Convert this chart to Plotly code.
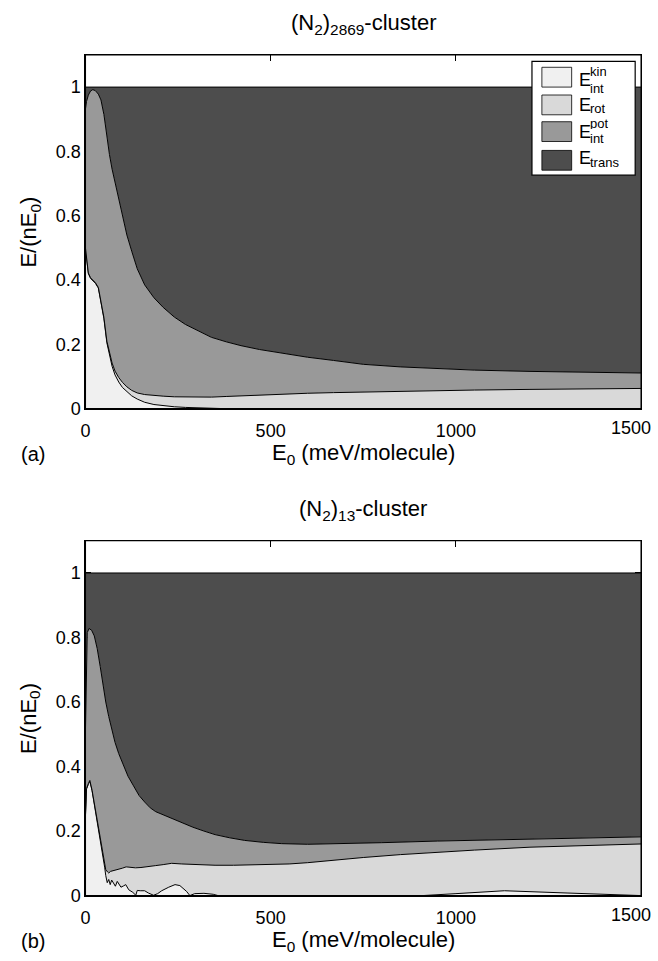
import plotly.graph_objects as go

W, H = 658, 961
FONT = "Liberation Sans, Arial, sans-serif"

# Energy partition E/(nE0) versus collision energy E0 (meV/molecule).
# Each list is the cumulative upper boundary of a stacked component.

# ---- (a) (N2)2869 cluster ----
a_kin_x = [0, 3, 8, 14, 20, 27, 35, 42, 50, 58, 65, 72, 80, 90, 100, 112, 125, 140,
           160, 185, 210, 240, 270, 300, 340, 380, 1500]
a_kin_y = [0.50, 0.46, 0.42, 0.405, 0.398, 0.390, 0.375, 0.335, 0.280, 0.205, 0.165,
           0.132, 0.105, 0.083, 0.066, 0.052, 0.040, 0.030, 0.020, 0.013, 0.009,
           0.006, 0.004, 0.003, 0.001, 0.0, 0.0]

a_rot_x = [0, 3, 8, 14, 20, 27, 35, 42, 50, 58, 65, 72, 80, 90, 100, 112, 125, 140,
           160, 185, 210, 240, 270, 300, 340, 380, 420, 470, 530, 600, 670, 750, 850,
           950, 1050, 1200, 1350, 1500]
a_rot_y = [0.502, 0.462, 0.422, 0.407, 0.400, 0.392, 0.377, 0.338, 0.284, 0.210, 0.172,
           0.142, 0.117, 0.097, 0.082, 0.068, 0.057, 0.049, 0.044, 0.041, 0.039,
           0.037, 0.036, 0.036, 0.036, 0.038, 0.040, 0.043, 0.046, 0.048, 0.050,
           0.052, 0.054, 0.056, 0.058, 0.060, 0.062, 0.063]

a_pot_x = [0, 3, 8, 14, 20, 27, 35, 42, 50, 58, 65, 72, 80, 90, 100, 112, 125, 140,
           160, 185, 210, 240, 270, 300, 340, 380, 420, 470, 530, 600, 670, 750, 850,
           950, 1050, 1200, 1350, 1500]
a_pot_y = [0.93, 0.955, 0.975, 0.988, 0.992, 0.989, 0.978, 0.960, 0.915, 0.845, 0.790,
           0.745, 0.705, 0.655, 0.600, 0.540, 0.490, 0.435, 0.385, 0.345, 0.315,
           0.285, 0.262, 0.245, 0.222, 0.208, 0.196, 0.184, 0.172, 0.160, 0.150,
           0.138, 0.130, 0.124, 0.120, 0.116, 0.113, 0.111]

# ---- (b) (N2)13 cluster ----
b_kin_x = [0, 3, 8, 12, 18, 27, 36, 45, 52, 55, 59, 63, 67, 71, 75, 81, 86, 90, 96,
           103, 109, 117, 128, 136, 140, 148, 160, 170, 184, 195, 206, 225, 242, 255,
           265, 273, 282, 295, 320, 345, 358, 910, 1000, 1131, 1300, 1450, 1500]
b_kin_y = [0.24, 0.33, 0.345, 0.355, 0.325, 0.262, 0.210, 0.148, 0.088, 0.062, 0.040,
           0.050, 0.034, 0.048, 0.040, 0.029, 0.044, 0.036, 0.026, 0.030, 0.034,
           0.018, 0.010, 0.001, 0.016, 0.015, 0.015, 0.008, 0.001, 0.006, 0.015,
           0.026, 0.034, 0.031, 0.022, 0.013, 0.0, 0.006, 0.007, 0.004, 0.0, 0.0,
           0.006, 0.015, 0.008, 0.002, 0.0]

b_rot_x = [0, 3, 8, 12, 18, 27, 36, 45, 52, 55, 60, 63, 68, 72, 80, 90, 100, 110, 120,
           135, 150, 170, 190, 210, 233, 260, 300, 350, 400, 450, 500, 550, 600, 667,
           750, 850, 950, 1050, 1200, 1350, 1500]
b_rot_y = [0.242, 0.332, 0.347, 0.357, 0.327, 0.264, 0.212, 0.151, 0.090, 0.080, 0.073,
           0.070, 0.075, 0.076, 0.080, 0.082, 0.085, 0.089, 0.088, 0.086, 0.087,
           0.089, 0.093, 0.096, 0.100, 0.098, 0.096, 0.094, 0.094, 0.095, 0.096,
           0.098, 0.102, 0.110, 0.118, 0.127, 0.135, 0.141, 0.150, 0.156, 0.160]

b_pot_x = [0, 2, 5, 10, 17, 24, 32, 40, 47, 55, 63, 72, 80, 90, 100, 115, 130, 145,
           160, 175, 190, 210, 235, 260, 290, 320, 350, 390, 430, 480, 530, 600, 670,
           800, 950, 1100, 1250, 1400, 1500]
b_pot_y = [0.50, 0.70, 0.815, 0.828, 0.822, 0.805, 0.765, 0.710, 0.655, 0.600, 0.555,
           0.510, 0.475, 0.440, 0.410, 0.370, 0.340, 0.310, 0.290, 0.272, 0.260,
           0.250, 0.238, 0.226, 0.212, 0.200, 0.189, 0.179, 0.171, 0.165, 0.161,
           0.159, 0.160, 0.164, 0.169, 0.173, 0.177, 0.180, 0.182]

total_x = [0, 1500]
total_y = [1.0, 1.0]

x_ticks = [0, 500, 1000, 1500]
x_ticktext = ["0", "500", "1000", "1500"]
y_ticks = [0, 0.2, 0.4, 0.6, 0.8, 1.0]

components = ["E_int^kin", "E_rot", "E_int^pot", "E_trans"]
fills = ["#f0f0f0", "#d9d9d9", "#999999", "#4d4d4d"]

fig = go.Figure()


def add_stack(xs, ys, xa, ya):
    for i, (x, y) in enumerate(zip(xs, ys)):
        fig.add_trace(go.Scatter(
            x=x, y=y, xaxis=xa, yaxis=ya, mode="lines",
            line=dict(color="black", width=1),
            fill="tozeroy" if i == 0 else "tonexty",
            fillcolor=fills[i], name=components[i],
            showlegend=False, hoverinfo="skip"))


add_stack([a_kin_x, a_rot_x, a_pot_x, total_x],
          [a_kin_y, a_rot_y, a_pot_y, total_y], "x", "y")
add_stack([b_kin_x, b_rot_x, b_pot_x, total_x],
          [b_kin_y, b_rot_y, b_pot_y, total_y], "x2", "y2")


def px_x(p):
    return p / W


def px_y(p):
    return 1 - p / H


# plot-area boxes in pixels: left, right, top, bottom
box_a = (81, 641, 55.5, 413)
box_b = (81, 641, 546.4, 905)

tick_font = dict(family=FONT, size=18, color="black")
# the last x label sits at the page edge, so it is placed as an annotation
common_x = dict(range=[0, 1500], tickvals=x_ticks,
                ticktext=x_ticktext[:-1] + [""], ticks="inside", ticklen=6,
                tickcolor="black", showgrid=False, zeroline=False, showline=True,
                linecolor="black", mirror="ticks", layer="below traces",
                tickfont=tick_font, ticklabelstandoff=6)
common_y = dict(range=[0, 1.1], tickvals=y_ticks, ticks="inside", ticklen=6,
                tickcolor="black", showgrid=False, zeroline=False, showline=True,
                linecolor="black", mirror="ticks", layer="below traces",
                tickfont=tick_font)

fig.update_layout(
    width=W, height=H, margin=dict(l=0, r=0, t=0, b=0),
    paper_bgcolor="white", plot_bgcolor="white",
    xaxis=dict(domain=[px_x(box_a[0]), px_x(box_a[1])], anchor="y", **common_x),
    yaxis=dict(domain=[px_y(box_a[3]), px_y(box_a[2])], anchor="x", **common_y),
    xaxis2=dict(domain=[px_x(box_b[0]), px_x(box_b[1])], anchor="y2", **common_x),
    yaxis2=dict(domain=[px_y(box_b[3]), px_y(box_b[2])], anchor="x2", **common_y),
    font=dict(family=FONT, color="black"),
)

shapes = []
annotations = []

# frames around both plot areas, drawn on top of the fills
for xr, yr in (("x", "y"), ("x2", "y2")):
    shapes.append(dict(type="rect", xref=f"{xr} domain", yref=f"{yr} domain",
                       x0=0, x1=1, y0=0, y1=1, layer="above",
                       line=dict(color="black", width=1.3)))


def text(t, x, y, size, xanchor="center", yanchor="middle", angle=0, height=None):
    ann = dict(text=t, x=px_x(x), y=px_y(y), xref="paper", yref="paper",
               showarrow=False, xanchor=xanchor, yanchor=yanchor,
               textangle=angle, font=dict(family=FONT, size=size, color="black"))
    if height:
        ann.update(height=height, borderpad=0, valign="middle")
    annotations.append(ann)


for (box, title, label), xr, yr in zip(
        ((box_a, "(N<sub>2</sub>)<sub>2869</sub>-cluster", "(a)"),
         (box_b, "(N<sub>2</sub>)<sub>13</sub>-cluster", "(b)")),
        ("x", "x2"), ("y", "y2")):
    left, right, top, bottom = box
    cx = (left + right) / 2
    cy = (top + bottom) / 2
    text(title, cx, top - 31, 22)
    text("E<sub>0</sub> (meV/molecule)", cx, bottom + 46, 22)
    text("E/(nE<sub>0</sub>)", 25, cy, 22, angle=-90)
    text(label, 14, bottom + 46, 20, xanchor="left")
    # last x tick label, pulled slightly inside the page
    annotations.append(dict(text=x_ticktext[-1], x=x_ticks[-1], xref=xr,
                            y=0, yref=f"{yr} domain", yanchor="top", xanchor="center",
                            xshift=-10, yshift=-7, showarrow=False,
                            font=tick_font))

# legend for panel (a)
shapes.append(dict(type="rect", xref="paper", yref="paper",
                   x0=px_x(531), x1=px_x(635), y0=px_y(177), y1=px_y(62),
                   fillcolor="white", line=dict(color="black", width=1.2),
                   layer="above"))
sw_rows = [(68, 88), (96, 116), (123, 143), (152, 172)]
for (t0, t1), col in zip(sw_rows, fills):
    shapes.append(dict(type="rect", xref="paper", yref="paper",
                       x0=px_x(541), x1=px_x(571), y0=px_y(t1), y1=px_y(t0),
                       fillcolor=col, line=dict(color="black", width=0.8),
                       layer="above"))

legend_text = [
    # (main, main_y, sup, sup_y, sub, sub_y)
    ("E", 81, "kin", 72, "int", 89),
    ("E", 106, None, None, "rot", 109.5),
    ("E", 133, "pot", 125, "int", 140),
    ("E", 160, None, None, "trans", 164.5),
]
for main, my, sup, sy, sub, by in legend_text:
    text(main, 577, my, 18, xanchor="left", height=14)
    if sup:
        text(sup, 588, sy, 13, xanchor="left", height=11)
    if sub:
        text(sub, 588, by, 13, xanchor="left", height=11)

fig.update_layout(shapes=shapes, annotations=annotations)
fig.write_html("out.html")
